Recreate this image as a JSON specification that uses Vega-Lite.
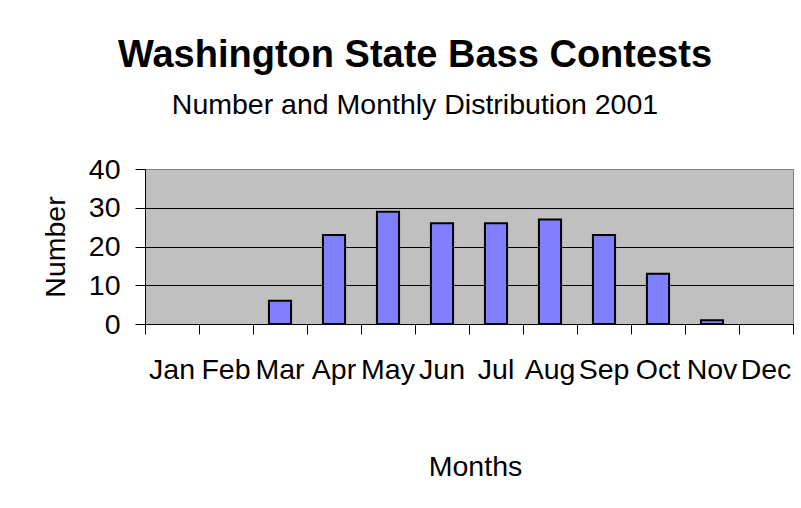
{
  "$schema": "https://vega.github.io/schema/vega-lite/v6.json",
  "autosize": "none",
  "width": 648,
  "height": 155,
  "padding": {"left": 145, "top": 169, "right": 8, "bottom": 184},
  "background": "white",
  "title": {
    "text": "Washington State Bass Contests",
    "subtitle": "Number and Monthly Distribution 2001",
    "anchor": "middle",
    "dx": -54,
    "font": "Liberation Sans",
    "fontSize": 38,
    "fontWeight": "bold",
    "color": "black",
    "subtitleFont": "Liberation Sans",
    "subtitleFontSize": 28.5,
    "subtitleColor": "black",
    "subtitlePadding": 16,
    "offset": 36
  },
  "data": {
    "values": [
      {"month": "Jan", "number": 0},
      {"month": "Feb", "number": 0},
      {"month": "Mar", "number": 6},
      {"month": "Apr", "number": 23},
      {"month": "May", "number": 29},
      {"month": "Jun", "number": 26},
      {"month": "Jul", "number": 26},
      {"month": "Aug", "number": 27},
      {"month": "Sep", "number": 23},
      {"month": "Oct", "number": 13},
      {"month": "Nov", "number": 1},
      {"month": "Dec", "number": 0}
    ]
  },
  "mark": {"type": "bar", "width": {"band": 0.41}, "fill": "#8080FF", "stroke": "black", "strokeWidth": 2},
  "encoding": {
    "x": {
      "field": "month",
      "type": "nominal",
      "sort": null,
      "scale": {"paddingInner": 0, "paddingOuter": 0},
      "axis": {
        "title": "Months",
        "titleX": 330,
        "labelAngle": 0,
        "bandPosition": 1,
        "tickExtra": true,
        "tickSize": 10,
        "tickColor": "black",
        "domainColor": "black",
        "labelFont": "Liberation Sans",
        "labelFontSize": 28.5,
        "labelColor": "black",
        "labelPadding": 21,
        "labelOverlap": false,
        "titleFont": "Liberation Sans",
        "titleFontSize": 28.5,
        "titleFontWeight": "normal",
        "titleColor": "black",
        "titlePadding": 69
      }
    },
    "y": {
      "field": "number",
      "type": "quantitative",
      "scale": {"domain": [0, 40], "nice": false},
      "axis": {
        "title": "Number",
        "values": [0, 10, 20, 30, 40],
        "grid": true,
        "gridColor": {"condition": {"test": "datum.value == 40", "value": "#808080"}, "value": "black"},
        "gridOpacity": 1,
        "tickSize": 10,
        "tickColor": "black",
        "domainColor": "black",
        "labelFont": "Liberation Sans",
        "labelFontSize": 28.5,
        "labelColor": "black",
        "labelPadding": 15,
        "titleFont": "Liberation Sans",
        "titleFontSize": 28.5,
        "titleFontWeight": "normal",
        "titleColor": "black",
        "titlePadding": 18
      }
    },
    "strokeOpacity": {
      "condition": {"test": "datum.number == 0", "value": 0},
      "value": 1
    }
  },
  "config": {
    "view": {"fill": "#C0C0C0", "stroke": "#808080", "strokeWidth": 1}
  }
}
